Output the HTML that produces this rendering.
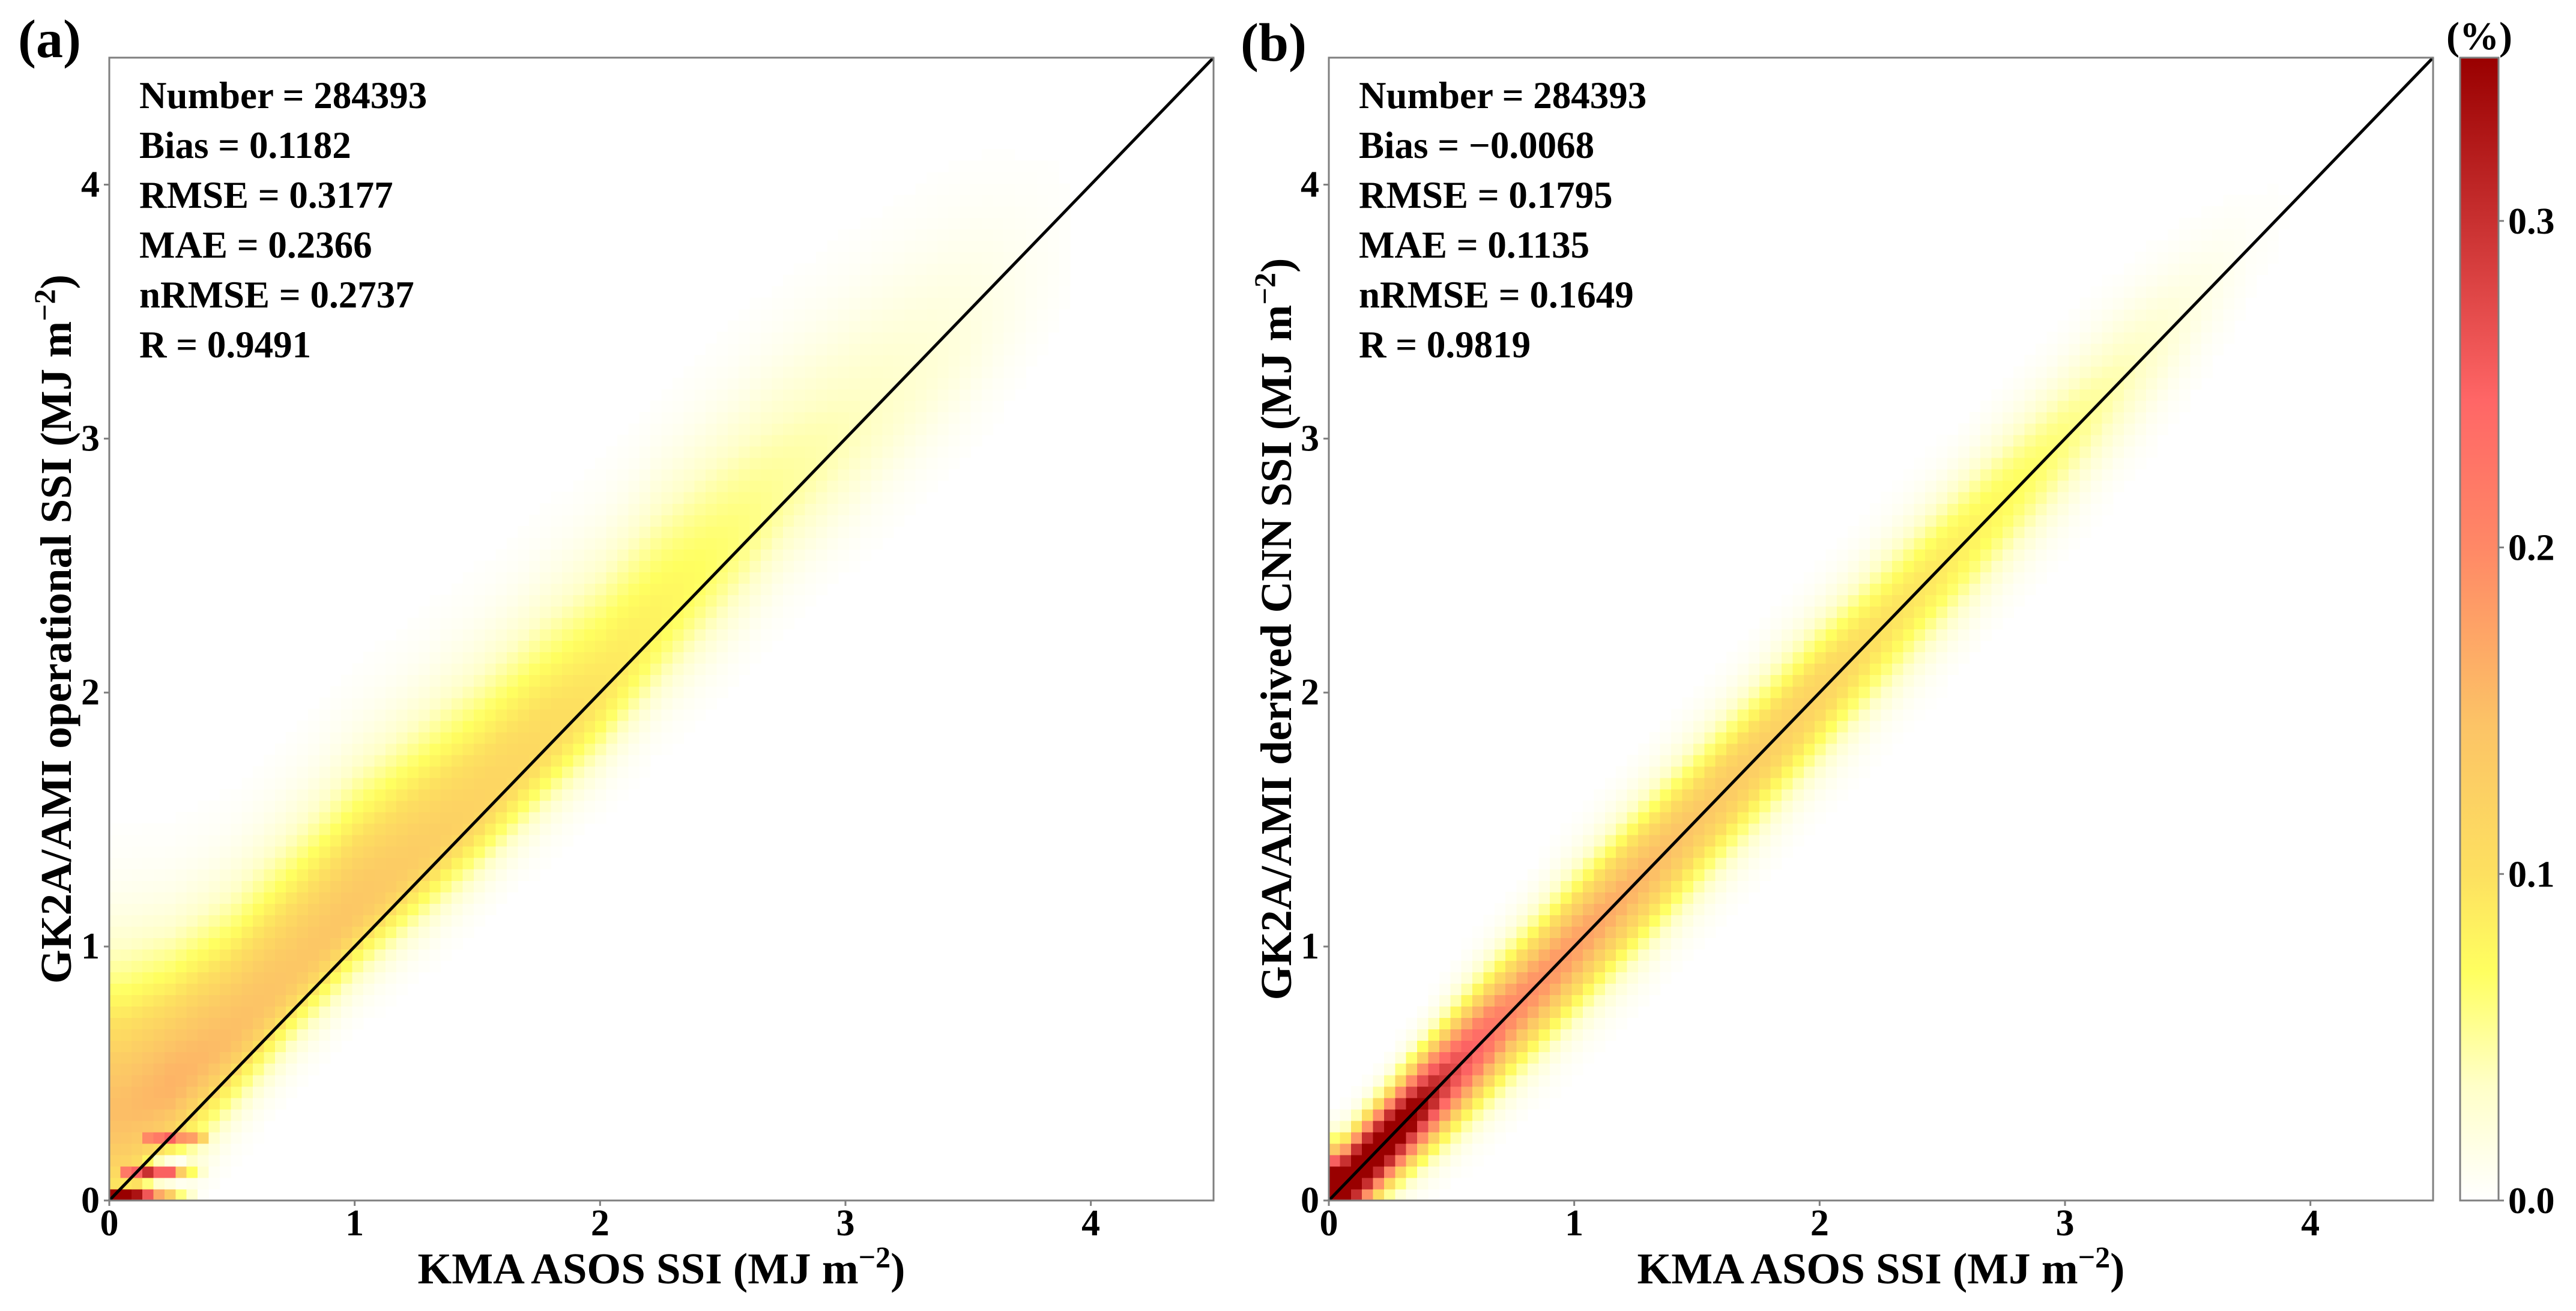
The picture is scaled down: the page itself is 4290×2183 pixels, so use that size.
<!DOCTYPE html>
<html><head><meta charset="utf-8">
<style>
html,body{margin:0;padding:0;background:#fff;}
svg text{font-family:"Liberation Serif",serif;font-weight:bold;fill:#000;}
</style></head>
<body>
<svg id="fig" xmlns="http://www.w3.org/2000/svg" width="4290" height="2178" viewBox="0 0 4290 2178">
<defs>
<linearGradient id="cbgrad" x1="0" y1="1" x2="0" y2="0"></linearGradient>
</defs>
<g id="panelA"></g>
<g id="panelB"></g>
<g id="cbar"></g>
</svg>
<script>
// ---- data ----
const knotX = [0.05,0.25,0.5,0.75,1,1.25,1.5,1.75,2,2.25,2.5,2.75,3,3.25,3.5,3.75,4];
const aCenter = [0.35,0.45,0.65,0.9,1.15,1.35,1.55,1.78,2.0,2.3,2.55,2.8,3.0,3.2,3.4,3.6,3.8];
const aPeak = [0.15,0.16,0.15,0.14,0.14,0.13,0.12,0.11,0.095,0.08,0.065,0.05,0.04,0.03,0.02,0.008,0];
const aSdUp = [0.38,0.35,0.33,0.33,0.33,0.33,0.33,0.33,0.33,0.33,0.33,0.33,0.33,0.33,0.33,0.3,0.3];
const aSdDown = [0.3,0.22,0.18,0.17,0.17,0.17,0.17,0.17,0.18,0.2,0.22,0.22,0.22,0.22,0.22,0.2,0.2];
const aOverrides = [[0,0,0.4],[1,0,0.4],[2,0,0.33],[3,0,0.26],[4,0,0.17],[5,0,0.13],[6,0,0.06],[7,0,0.03],
  [2,1,0.1],[3,1,0.06],[4,1,0.03],[5,1,0.02],[6,1,0.01],
  [1,2,0.22],[2,2,0.25],[3,2,0.3],[4,2,0.25],[5,2,0.25],[6,2,0.13],[7,2,0.07],[8,2,0.03],
  [3,3,0.08],[4,3,0.04],[5,3,0.02],[6,3,0.01],
  [3,5,0.2],[4,5,0.22],[5,5,0.25],[6,5,0.19],[7,5,0.18],[8,5,0.12]];
const bCenter = [0.05,0.25,0.5,0.75,1,1.25,1.5,1.75,2,2.25,2.5,2.75,3,3.25,3.5,3.75,4];
const bPeak = [0.45,0.42,0.28,0.2,0.18,0.16,0.14,0.13,0.12,0.1,0.09,0.075,0.06,0.04,0.02,0.005,0];
const bSd = [0.1,0.11,0.14,0.16,0.17,0.18,0.18,0.18,0.18,0.18,0.18,0.18,0.18,0.18,0.17,0.15,0.15];
const axisTicks = [0,1,2,3,4];
const cbTicks = [0.0,0.1,0.2,0.3];
const cbTickLabels = ["0.0","0.1","0.2","0.3"];
const statsA = ["Number = 284393","Bias = 0.1182","RMSE = 0.3177","MAE = 0.2366","nRMSE = 0.2737","R = 0.9491"];
const statsB = ["Number = 284393","Bias = \u22120.0068","RMSE = 0.1795","MAE = 0.1135","nRMSE = 0.1649","R = 0.9819"];
const VMAX = 0.35, AXMAX = 4.5, BIN = 0.045;
const cmapStops = [[0,"#ffffff"],[0.035,"#ffffc8"],[0.07,"#ffff60"],[0.1,"#fde060"],[0.145,"#fcc466"],[0.2,"#ff8866"],[0.245,"#ff6666"],[0.3,"#c83030"],[0.35,"#990000"]];

const NS = "http://www.w3.org/2000/svg";
function mk(tag, attrs, parent){const e=document.createElementNS(NS,tag);for(const k in attrs)e.setAttribute(k,attrs[k]);parent.appendChild(e);return e;}
function hex(c){return [parseInt(c.substr(1,2),16),parseInt(c.substr(3,2),16),parseInt(c.substr(5,2),16)];}
function cmap(v){
  v=Math.max(0,Math.min(VMAX,v));
  for(let i=1;i<cmapStops.length;i++){
    if(v<=cmapStops[i][0]){const a=cmapStops[i-1],b=cmapStops[i];const t=(v-a[0])/(b[0]-a[0]);
      const ca=hex(a[1]),cb=hex(b[1]);return "rgb("+ca.map((x,j)=>Math.round(x+(cb[j]-x)*t)).join(",")+")";}
  }
  return cmapStops[cmapStops.length-1][1];
}
function interp(arr,x){
  if(x<=knotX[0])return arr[0];
  for(let i=1;i<knotX.length;i++){if(x<=knotX[i]){const t=(x-knotX[i-1])/(knotX[i]-knotX[i-1]);return arr[i-1]+(arr[i]-arr[i-1])*t;}}
  return arr[arr.length-1];
}

function drawPanel(g, left, top, W, H, valueFn, overrides, stats, ylabel, tag, ylabX){
  const xs=v=>left+v/AXMAX*W, ys=v=>top+H-v/AXMAX*H;
  const n=Math.round(AXMAX/BIN);
  const grid=[];
  for(let i=0;i<n;i++){grid.push([]);for(let j=0;j<n;j++){grid[i].push(valueFn((i+0.5)*BIN,(j+0.5)*BIN));}}
  overrides.forEach(o=>{grid[o[0]][o[1]]=o[2];});
  const cells=mk("g",{"shape-rendering":"crispEdges"},g);
  
  
  for(let i=0;i<n;i++)for(let j=0;j<n;j++){
    const v=grid[i][j]; if(v<0.002)continue;
    const r=mk("rect",{x:xs(i*BIN),y:ys((j+1)*BIN),width:xs((i+1)*BIN)-xs(i*BIN)+0.6,height:ys(j*BIN)-ys((j+1)*BIN)+0.6,fill:cmap(v)},cells);
    
    
  }
  const line=mk("line",{x1:xs(0),y1:ys(0),x2:xs(AXMAX),y2:ys(AXMAX),stroke:"#000","stroke-width":5},g);
  
  
  const frame=mk("rect",{x:left,y:top,width:W,height:H,fill:"none",stroke:"#7f7f7f","stroke-width":3},g);
  
  
  axisTicks.forEach(t=>{
    const tx=mk("line",{x1:xs(t),y1:top+H,x2:xs(t),y2:top+H+9,stroke:"#7f7f7f","stroke-width":3},g);
    
    
    const lx=mk("text",{x:xs(t),y:top+H+58,"font-size":62,"text-anchor":"middle"},g);lx.textContent=String(t);
    
    
    const ty=mk("line",{x1:left-9,y1:ys(t),x2:left,y2:ys(t),stroke:"#7f7f7f","stroke-width":3},g);
    
    
    const ly=mk("text",{x:left-16,y:ys(t)+20,"font-size":62,"text-anchor":"end"},g);ly.textContent=String(t);
    
    
  });
  stats.forEach((s,k)=>{
    const st=mk("text",{x:left+50,y:top+84+k*83,"font-size":63},g);st.textContent=s;
    
    
  });
  const xl=mk("text",{x:left+W/2,y:top+H+138,"font-size":73,"text-anchor":"middle"},g);
  xl.innerHTML='KMA ASOS SSI (MJ m<tspan dy="-27" font-size="50">\u22122</tspan><tspan dy="27">)</tspan>';
  
  
  const yl=mk("text",{x:0,y:0,"font-size":73,"text-anchor":"middle",transform:"translate("+(ylabX)+","+(top+H/2)+") rotate(-90)"},g);
  yl.innerHTML=ylabel+' (MJ m<tspan dy="-27" font-size="50">\u22122</tspan><tspan dy="27">)</tspan>';
  
  
}

const W=1839,H=1903,TOP=96;
drawPanel(document.getElementById("panelA"),182,TOP,W,H,(x,y)=>{
  const c=interp(aCenter,x),p=interp(aPeak,x),sd=y>=c?interp(aSdUp,x):interp(aSdDown,x);
  return p*Math.exp(-0.5*((y-c)/sd)**2);
},aOverrides,statsA,"GK2A/AMI operational SSI","panel-a",118);
drawPanel(document.getElementById("panelB"),2213,TOP,W,H,(x,y)=>{
  const c=interp(bCenter,x),p=interp(bPeak,x),sd=interp(bSd,x);
  return p*Math.exp(-0.5*((y-c)/sd)**2);
},[],statsB,"GK2A/AMI derived CNN SSI","panel-b",2150);

const svg=document.getElementById("fig");
const la=mk("text",{x:30,y:95,"font-size":90},svg);la.textContent="(a)";


const lb=mk("text",{x:2066,y:101,"font-size":90},svg);lb.textContent="(b)";



// colorbar
const grad=document.getElementById("cbgrad");
cmapStops.forEach(s=>mk("stop",{offset:(s[0]/VMAX),"stop-color":s[1]},grad));
const cb=document.getElementById("cbar");
const CBL=4097,CBW=64,cys=v=>TOP+H-v/VMAX*H;
const cbr=mk("rect",{x:CBL,y:TOP,width:CBW,height:H,fill:"url(#cbgrad)",stroke:"#7f7f7f","stroke-width":3},cb);


cbTicks.forEach((t,k)=>{
  const tl=mk("line",{x1:CBL+CBW,y1:cys(t),x2:CBL+CBW+9,y2:cys(t),stroke:"#7f7f7f","stroke-width":3},cb);
  
  
  const tx=mk("text",{x:CBL+CBW+16,y:cys(t)+21,"font-size":62},cb);tx.textContent=cbTickLabels[k];
  
  
});
const cbt=mk("text",{x:CBL+CBW/2,y:TOP-14,"font-size":66,"text-anchor":"middle"},cb);cbt.textContent="(%)";


</script>
</body></html>
